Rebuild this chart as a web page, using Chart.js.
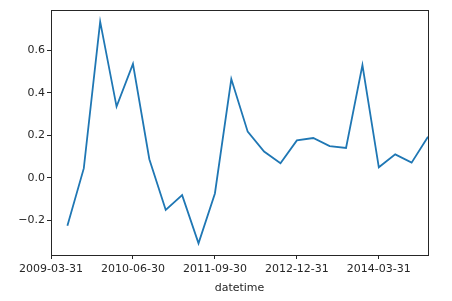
<!DOCTYPE html>
<html>
<head>
<meta charset="utf-8">
<script src="https://cdn.jsdelivr.net/npm/chart.js@4"></script>
<style>
  html, body { margin: 0; padding: 0; background: #fff; }
  #wrap { width: 452px; height: 301px; }
</style>
</head>
<body>
<div id="wrap"><canvas id="chart" width="452" height="301"></canvas></div>
<script>
// quarterly dates, first value is missing (pct change)
const dates = [
  "2009-03-31", "2009-06-30", "2009-09-30", "2009-12-31",
  "2010-03-31", "2010-06-30", "2010-09-30", "2010-12-31",
  "2011-03-31", "2011-06-30", "2011-09-30", "2011-12-31",
  "2012-03-31", "2012-06-30", "2012-09-30", "2012-12-31",
  "2013-03-31", "2013-06-30", "2013-09-30", "2013-12-31",
  "2014-03-31", "2014-06-30", "2014-09-30", "2014-12-31"
];
const values = [
  null, -0.226, 0.044, 0.735,
  0.335, 0.536, 0.087, -0.152,
  -0.082, -0.309, -0.074, 0.465,
  0.217, 0.123, 0.068, 0.176,
  0.187, 0.149, 0.140, 0.530,
  0.049, 0.110, 0.071, 0.193
];
const yTicks = [-0.2, 0.0, 0.2, 0.4, 0.6];
const xTickEvery = 5;

const FONT = { family: "'DejaVu Sans', sans-serif", size: 11 };
const INK = "#262626";

// matplotlib-like box around the plot area
const frame = {
  id: "frame",
  afterDraw(chart) {
    const a = chart.chartArea;
    const c = chart.ctx;
    c.save();
    c.strokeStyle = INK;
    c.lineWidth = 1;
    c.strokeRect(Math.round(a.left) + 0.5, Math.round(a.top) + 0.5,
                 Math.round(a.right - a.left), Math.round(a.bottom - a.top));
    c.restore();
  }
};

new Chart(document.getElementById("chart"), {
  type: "line",
  data: {
    labels: dates,
    datasets: [{
      data: values,
      borderColor: "#1f77b4",
      borderWidth: 1.8,
      pointRadius: 0,
      tension: 0,
      spanGaps: false,
    }],
  },
  plugins: [frame],
  options: {
    responsive: false,
    animation: false,
    layout: { padding: { left: 0, right: 24, top: 10, bottom: 0 } },
    plugins: {
      legend: { display: false },
      tooltip: { enabled: false },
    },
    scales: {
      x: {
        type: "category",
        offset: false,
        grid: { drawOnChartArea: false, drawTicks: true, tickLength: 4, color: INK },
        border: { display: false },
        ticks: {
          autoSkip: false,
          maxRotation: 0,
          padding: 4,
          color: INK,
          font: FONT,
          callback: function (v, i) { return i % xTickEvery === 0 ? dates[i] : null; },
        },
        title: { display: true, text: "datetime", color: INK, font: FONT, padding: { top: 0, bottom: 6 } },
        afterFit: function (s) { s.height = 46; },
      },
      y: {
        min: -0.364,
        max: 0.79,
        grid: { drawOnChartArea: false, drawTicks: true, tickLength: 4, color: INK },
        border: { display: false },
        afterBuildTicks: function (s) { s.ticks = yTicks.map(function (v) { return { value: v }; }); },
        ticks: {
          padding: 2,
          color: INK,
          font: FONT,
          callback: function (v) { return v.toFixed(1).replace("-", "\u2212"); },
        },
        afterFit: function (s) { s.width = 51; },
      },
    },
  },
});
</script>
</body>
</html>
